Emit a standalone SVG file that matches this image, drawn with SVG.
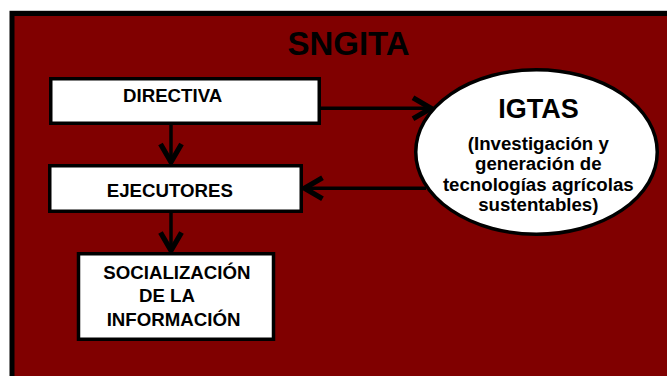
<svg xmlns="http://www.w3.org/2000/svg" width="667" height="376" viewBox="0 0 667 376">
<style>
.box{fill:#ffffff;stroke:#000000;stroke-width:3.5}
.t{font-family:"Liberation Sans",Arial,sans-serif;font-weight:bold;fill:#000000}
.s{font-size:18.67px}
.c{stroke:#000000;stroke-width:3.5;fill:none}
</style>
<defs>
<marker id="ah" markerUnits="userSpaceOnUse" orient="auto" refX="0" refY="0" markerWidth="30" markerHeight="30" viewBox="-16 -10 20 20" overflow="visible">
<path d="M-12,-7 L0,0 L-12,7" fill="none" stroke="#000000" stroke-width="3.5"/>
</marker>
</defs>
<rect x="0" y="0" width="667" height="376" fill="#ffffff"/>
<line x1="9.5" y1="10.5" x2="667" y2="10.5" stroke="#c8c8c8" stroke-width="1"/>
<g id="frame">
<rect x="12" y="13.5" width="700" height="400" fill="#800000" stroke="#000000" stroke-width="5"/>
<text class="t" x="348.5" y="55" font-size="33" text-anchor="middle">SNGITA</text>
</g>
<g id="connectors">
<line class="c" x1="171" y1="125" x2="171" y2="162" marker-end="url(#ah)"/>
<line class="c" x1="171" y1="213" x2="171" y2="250.5" marker-end="url(#ah)"/>
<line class="c" x1="321" y1="108.3" x2="431" y2="108.3" marker-end="url(#ah)"/>
<line class="c" x1="426" y1="188.3" x2="304.5" y2="188.3" marker-end="url(#ah)"/>
</g>
<g id="directiva">
<rect class="box" x="50.75" y="78.75" width="268.5" height="44.5"/>
<text class="t s" x="123" y="102">DIRECTIVA</text>
</g>
<g id="ejecutores">
<rect class="box" x="49.75" y="165.75" width="251.5" height="45.5"/>
<text class="t s" x="106.7" y="196.7">EJECUTORES</text>
</g>
<g id="socializacion">
<rect class="box" x="78.5" y="253.75" width="195" height="85.5"/>
<text class="t s" x="103.3" y="279">SOCIALIZACIÓN</text>
<text class="t s" x="139" y="302">DE LA</text>
<text class="t s" x="106.7" y="325.7">INFORMACIÓN</text>
</g>
<g id="igtas">
<ellipse cx="536.5" cy="152" rx="120.75" ry="82.25" fill="#ffffff" stroke="#000000" stroke-width="3.5"/>
<text class="t" x="538.5" y="118.3" font-size="27" text-anchor="middle">IGTAS</text>
<text class="t s" x="538.3" y="150" text-anchor="middle">(Investigación y</text>
<text class="t s" x="538.3" y="170.3" text-anchor="middle">generación de</text>
<text class="t s" x="538.3" y="190.5" text-anchor="middle">tecnologías agrícolas</text>
<text class="t s" x="538.3" y="210.7" text-anchor="middle">sustentables)</text>
</g>
</svg>
